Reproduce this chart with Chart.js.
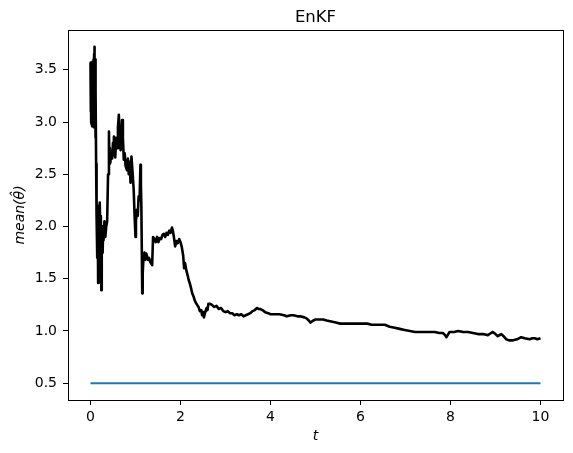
<!DOCTYPE html>
<html>
<head>
<meta charset="utf-8">
<script src="https://cdn.jsdelivr.net/npm/chart.js@4.4.0/dist/chart.umd.min.js"></script>
<style>
  body { margin: 0; background: white; }
  #wrap { width: 573px; height: 453px; }
</style>
</head>
<body>
<div id="wrap"><canvas id="myChart" width="573" height="453"></canvas></div>
<script>
// EnKF estimate of the mean parameter
const tEnkf = [
  0.00, 0.005, 0.01, 0.015, 0.02, 0.025, 0.03, 0.035, 0.04, 0.045, 0.05, 0.055, 0.06, 0.065, 0.07, 0.075,
  0.08, 0.085, 0.09, 0.095, 0.10, 0.105, 0.11, 0.115, 0.12, 0.125, 0.13, 0.14,
  0.15, 0.16, 0.17, 0.18, 0.19, 0.20, 0.21, 0.22, 0.23, 0.24, 0.25, 0.26, 0.27, 0.28, 0.29, 0.31,
  0.33, 0.35, 0.37, 0.39, 0.41, 0.42, 0.43, 0.44, 0.46, 0.48, 0.50, 0.52, 0.53, 0.55, 0.57, 0.59,
  0.61, 0.63, 0.65, 0.67, 0.69, 0.70, 0.72, 0.74, 0.76, 0.78, 0.81, 0.83, 0.85, 0.87, 0.89, 0.91,
  0.93, 0.96, 0.98, 1.00, 1.01, 1.03, 1.05, 1.07, 1.09, 1.11, 1.12, 1.13, 1.15, 1.16, 1.18, 1.20,
  1.22, 1.24, 1.26, 1.28, 1.30, 1.33, 1.37, 1.39, 1.42, 1.45, 1.48, 1.51, 1.54, 1.57, 1.60, 1.63,
  1.66, 1.69, 1.72, 1.75, 1.78, 1.81, 1.83, 1.86, 1.88, 1.91, 1.94, 1.97, 2.00, 2.03, 2.06, 2.08,
  2.10, 2.13, 2.16, 2.18, 2.21, 2.24, 2.26, 2.29, 2.31, 2.34, 2.37, 2.40, 2.43, 2.46, 2.48, 2.50,
  2.52, 2.55, 2.58, 2.60, 2.62, 2.66, 2.70, 2.75, 2.80, 2.85, 2.90, 2.95, 3.00, 3.05, 3.10, 3.15,
  3.20, 3.25, 3.30, 3.35, 3.40, 3.45, 3.50, 3.55, 3.60, 3.65, 3.70, 3.74, 3.77, 3.82, 3.88, 3.95,
  4.00, 4.10, 4.20, 4.30, 4.36, 4.45, 4.51, 4.60, 4.66, 4.75, 4.80, 4.85, 4.89, 4.95, 5.00, 5.10,
  5.17, 5.25, 5.35, 5.45, 5.55, 5.65, 5.75, 5.85, 5.95, 6.05, 6.15, 6.25, 6.35, 6.45, 6.54, 6.65,
  6.76, 6.87, 6.98, 7.10, 7.21, 7.32, 7.43, 7.55, 7.65, 7.75, 7.83, 7.88, 7.91, 7.95, 7.98, 8.08,
  8.17, 8.28, 8.39, 8.50, 8.61, 8.72, 8.83, 8.90, 8.94, 9.00, 9.05, 9.13, 9.18, 9.24, 9.30, 9.39,
  9.48, 9.57, 9.65, 9.76, 9.82, 9.87, 9.93, 10.00
];
const meanEnkf = [
  3.57, 3.10, 3.50, 3.00, 3.55, 2.98, 3.40, 2.96, 3.58, 3.05, 3.50, 3.00, 3.45, 2.95, 3.60, 3.10,
  3.65, 2.95, 3.72, 3.00, 3.60, 2.90, 3.40, 2.85, 3.30, 2.60, 2.45, 2.10,
  1.70, 2.15, 1.46, 2.00, 2.20, 1.80, 2.23, 1.95, 2.10, 1.39, 1.70, 2.00, 1.75, 1.95, 1.87, 2.05,
  1.90, 2.00, 2.05, 2.50, 2.91, 2.60, 2.75, 2.61, 2.70, 2.65, 2.80, 2.86, 2.70, 2.66, 2.85, 2.75,
  2.95, 3.07, 2.80, 2.73, 2.90, 3.02, 2.85, 2.64, 2.70, 2.58, 2.54, 2.65, 2.50, 2.62, 2.42, 2.67,
  2.55, 2.35, 2.10, 1.90, 2.05, 2.16, 2.10, 2.29, 2.25, 2.59, 2.40, 2.20, 1.36, 1.55, 1.72, 1.75,
  1.68, 1.74, 1.71, 1.68, 1.70, 1.66, 1.63, 1.90, 1.88, 1.85, 1.90, 1.85, 1.89, 1.88, 1.92, 1.93,
  1.90, 1.94, 1.92, 1.96, 1.94, 1.99, 1.96, 1.88, 1.81, 1.86, 1.84, 1.88, 1.85, 1.80, 1.72, 1.60,
  1.65, 1.58, 1.53, 1.49, 1.45, 1.40, 1.36, 1.33, 1.30, 1.27, 1.25, 1.23, 1.19, 1.20, 1.15, 1.18,
  1.13, 1.18, 1.22, 1.20, 1.26, 1.26, 1.25, 1.23, 1.24, 1.21, 1.22, 1.19, 1.18, 1.19, 1.17, 1.17,
  1.15, 1.16, 1.15, 1.16, 1.14, 1.15, 1.16, 1.17, 1.19, 1.20, 1.22, 1.21, 1.21, 1.20, 1.18, 1.17,
  1.16, 1.16, 1.16, 1.15, 1.14, 1.15, 1.15, 1.14, 1.14, 1.13, 1.12, 1.10, 1.08, 1.10, 1.11, 1.11,
  1.11, 1.10, 1.09, 1.08, 1.07, 1.07, 1.07, 1.07, 1.07, 1.07, 1.07, 1.06, 1.06, 1.06, 1.06, 1.04,
  1.03, 1.02, 1.01, 1.00, 0.99, 0.99, 0.99, 0.99, 0.99, 0.98, 0.98, 0.96, 0.94, 0.97, 0.99, 0.99,
  1.00, 0.99, 0.99, 0.98, 0.97, 0.97, 0.96, 0.98, 0.99, 0.97, 0.95, 0.97, 0.95, 0.92, 0.91, 0.91,
  0.92, 0.94, 0.93, 0.92, 0.93, 0.93, 0.92, 0.93
];
// true parameter value
const tTrue = [0, 10];
const thetaTrue = [0.5, 0.5];

const xTickVals = [0, 2, 4, 6, 8, 10];
const yTickVals = [0.5, 1.0, 1.5, 2.0, 2.5, 3.0, 3.5];

function toPoints(xs, ys) {
    var pts = [];
    for (var i = 0; i < xs.length; i++) {
        pts.push({x: xs[i], y: ys[i]});
    }
    return pts;
}

const tickFont = {family: 'DejaVu Sans', size: 14};
const labelFont = {family: 'DejaVu Sans', size: 14, style: 'italic'};

// matplotlib style frame + title over the axes box
const framePlugin = {
    id: 'frame',
    afterDraw(chart) {
        const ctx = chart.ctx;
        const a = chart.chartArea;
        ctx.save();
        ctx.strokeStyle = '#000';
        ctx.lineWidth = 1;
        ctx.strokeRect(Math.round(a.left) + 0.5, Math.round(a.top) + 0.5,
            Math.round(a.right - a.left), Math.round(a.bottom - a.top));
        ctx.fillStyle = '#000';
        ctx.font = '16.5px "DejaVu Sans"';
        ctx.textAlign = 'center';
        ctx.textBaseline = 'alphabetic';
        ctx.fillText('EnKF', (a.left + a.right) / 2, a.top - 8);
        ctx.restore();
    }
};

const ctx = document.getElementById('myChart').getContext('2d');
const enkfChart = new Chart(ctx, {
    type: 'line',
    data: {
        datasets: [{
            label: 'mean',
            data: toPoints(tEnkf, meanEnkf),
            borderColor: '#000000',
            borderWidth: 2.6,
            borderJoinStyle: 'round',
            pointRadius: 0,
            tension: 0
        }, {
            label: 'true',
            data: toPoints(tTrue, thetaTrue),
            borderColor: '#1f77b4',
            borderWidth: 2,
            pointRadius: 0,
            tension: 0
        }]
    },
    options: {
        responsive: false,
        animation: false,
        devicePixelRatio: 1,
        layout: {
            padding: {left: 0, right: 10, top: 30, bottom: 0}
        },
        plugins: {
            legend: {display: false},
            tooltip: {enabled: false}
        },
        scales: {
            x: {
                type: 'linear',
                min: -0.5,
                max: 10.5,
                afterFit: function(scale) { scale.height = 53; },
                afterBuildTicks: function(scale) {
                    scale.ticks = xTickVals.map(v => ({value: v}));
                },
                grid: {
                    drawOnChartArea: false,
                    drawTicks: true,
                    tickLength: 5,
                    color: '#000'
                },
                border: {display: false},
                ticks: {
                    color: '#000',
                    font: tickFont,
                    padding: 4,
                    maxRotation: 0,
                    callback: v => String(v)
                },
                title: {
                    display: true,
                    text: 't',
                    color: '#000',
                    font: labelFont,
                    padding: {top: 0, bottom: 8}
                }
            },
            y: {
                type: 'linear',
                min: 0.339,
                max: 3.881,
                afterFit: function(scale) { scale.width = 68; },
                afterBuildTicks: function(scale) {
                    scale.ticks = yTickVals.map(v => ({value: v}));
                },
                grid: {
                    drawOnChartArea: false,
                    drawTicks: true,
                    tickLength: 5,
                    color: '#000'
                },
                border: {display: false},
                ticks: {
                    color: '#000',
                    font: tickFont,
                    padding: 6,
                    callback: v => v.toFixed(1)
                },
                title: {
                    display: true,
                    text: 'mean(θ\u0302)',
                    color: '#000',
                    font: labelFont,
                    padding: {top: 12, bottom: 0}
                }
            }
        }
    },
    plugins: [framePlugin]
});
</script>
</body>
</html>
